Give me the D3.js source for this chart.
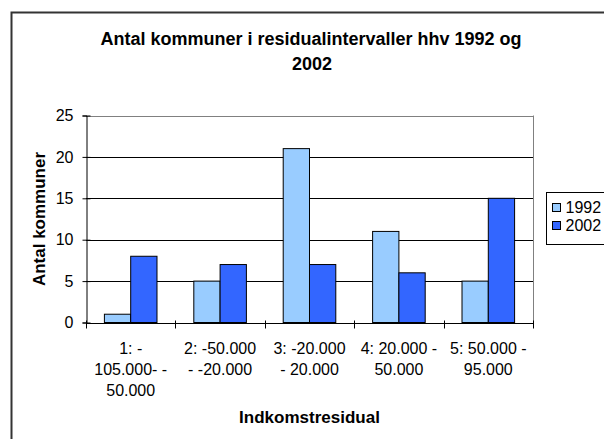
<!DOCTYPE html>
<html>
<head>
<meta charset="utf-8">
<script src="https://cdn.jsdelivr.net/npm/d3@7"></script>
<style>
  body { margin: 0; background: #fff; }
  svg { display: block; font-family: 'Liberation Sans', Arial, sans-serif; }
</style>
</head>
<body>
<div id="chart"></div>
<script>
const categories = [
  ['1: -', '105.000- -', '50.000'],
  ['2: -50.000', '- -20.000'],
  ['3: -20.000', '- 20.000'],
  ['4: 20.000 -', '50.000'],
  ['5: 50.000 -', '95.000']
]
const series = ['1992', '2002']
const values1992 = [1, 5, 21, 11, 5]
const values2002 = [8, 7, 7, 6, 15]
const yTicks = [0, 5, 10, 15, 20, 25]
const colors = { '1992': '#99ccff', '2002': '#3366ff' }

const width = 604
const height = 439
const plot = { left: 86, right: 533, top: 115.5, bottom: 322.5 }

const svg = d3.select('#chart')
  .append('svg')
  .attr('width', width)
  .attr('height', height)

// outer chart border (runs off the right and bottom edge)
svg.append('rect')
  .attr('x', 11.5).attr('y', 12.5)
  .attr('width', 620).attr('height', 440)
  .attr('fill', 'none')
  .attr('stroke', '#333')
  .attr('stroke-width', 2)

svg.append('text')
  .attr('x', 311).attr('y', 45)
  .attr('text-anchor', 'middle')
  .attr('font-size', 18).attr('font-weight', 'bold')
  .text('Antal kommuner i residualintervaller hhv 1992 og')
svg.append('text')
  .attr('x', 312).attr('y', 70)
  .attr('text-anchor', 'middle')
  .attr('font-size', 18).attr('font-weight', 'bold')
  .text('2002')

const idx = d3.range(categories.length)
const xScale = d3.scaleBand()
  .domain(idx)
  .range([plot.left, plot.right])
  .padding(0)

const xInner = d3.scaleBand()
  .domain(series)
  .range([0, xScale.bandwidth()])
  .paddingInner(0)
  .paddingOuter(0.7)

const yScale = d3.scaleLinear()
  .domain([0, 25])
  .range([plot.bottom, plot.top])

// gridlines
svg.append('g')
  .selectAll('line')
  .data(yTicks.filter(d => d > 0))
  .join('line')
  .attr('x1', plot.left).attr('x2', plot.right)
  .attr('y1', d => Math.round(yScale(d)) + 0.5)
  .attr('y2', d => Math.round(yScale(d)) + 0.5)
  .attr('stroke', d => d === 25 ? '#808080' : '#000')

// right border of plot area
svg.append('line')
  .attr('x1', plot.right + 0.5).attr('x2', plot.right + 0.5)
  .attr('y1', yScale(25)).attr('y2', plot.bottom)
  .attr('stroke', '#808080')

// bars
const rows = idx.map(i => ({ i, '1992': values1992[i], '2002': values2002[i] }))
svg.append('g')
  .selectAll('g')
  .data(rows)
  .join('g')
  .attr('transform', d => `translate(${xScale(d.i)},0)`)
  .selectAll('rect')
  .data(d => series.map(s => ({ s, v: d[s] })))
  .join('rect')
  .attr('x', d => xInner(d.s))
  .attr('y', d => yScale(d.v))
  .attr('width', xInner.bandwidth())
  .attr('height', d => yScale(0) - yScale(d.v))
  .attr('fill', d => colors[d.s])
  .attr('stroke', '#000')
  .attr('stroke-width', 1)

// y axis
const yAxis = g => g
  .attr('transform', `translate(${plot.left + 0.5},0)`)
  .call(d3.axisLeft(yScale).tickValues(yTicks).tickSize(4).tickPadding(9))
  .call(g => g.selectAll('.tick line').attr('x1', 4).attr('stroke', '#000'))
  .call(g => g.select('.domain').attr('stroke', '#000'))
  .call(g => g.selectAll('.tick text')
    .attr('font-size', 16)
    .attr('font-family', 'Liberation Sans, Arial, sans-serif')
    .attr('fill', '#000'))

svg.append('g').call(yAxis)

// x axis
const xAxis = g => g
  .attr('transform', `translate(0,${plot.bottom + 0.5})`)
  .call(d3.axisBottom(xScale).tickSize(0).tickPadding(0).tickSizeOuter(0).tickFormat(''))
  .call(g => g.select('.domain').attr('stroke', '#000'))
  .call(g => g.selectAll('.tick text').each(function (i) {
    d3.select(this)
      .attr('y', 0).attr('dy', null)
      .attr('font-size', 16)
      .attr('font-family', 'Liberation Sans, Arial, sans-serif')
      .attr('fill', '#000')
      .selectAll('tspan')
      .data(categories[i])
      .join('tspan')
      .attr('x', 0)
      .attr('y', (d, k) => 31 + k * 21)
      .text(d => d)
  }))

svg.append('g').call(xAxis)

// category boundary ticks
svg.append('g')
  .selectAll('line')
  .data(idx.concat([categories.length]))
  .join('line')
  .attr('x1', d => Math.round(d < categories.length ? xScale(d) : plot.right) + 0.5)
  .attr('x2', d => Math.round(d < categories.length ? xScale(d) : plot.right) + 0.5)
  .attr('y1', plot.bottom - 2)
  .attr('y2', plot.bottom + 6)
  .attr('stroke', '#000')

svg.append('text')
  .attr('transform', 'translate(45,219) rotate(-90)')
  .attr('text-anchor', 'middle')
  .attr('font-size', 17).attr('font-weight', 'bold')
  .text('Antal kommuner')

svg.append('text')
  .attr('x', (plot.left + plot.right) / 2).attr('y', 423)
  .attr('text-anchor', 'middle')
  .attr('font-size', 17).attr('font-weight', 'bold')
  .text('Indkomstresidual')

// legend
const legend = svg.append('g').attr('transform', 'translate(546.5,192.5)')
legend.append('rect')
  .attr('width', 80).attr('height', 52)
  .attr('fill', '#fff').attr('stroke', '#000')
const item = legend.selectAll('g')
  .data(series)
  .join('g')
  .attr('transform', (d, i) => `translate(6,${11 + i * 18})`)
item.append('rect')
  .attr('width', 8).attr('height', 8)
  .attr('fill', d => colors[d]).attr('stroke', '#000')
item.append('text')
  .attr('x', 13).attr('y', 9)
  .attr('font-size', 16)
  .text(d => d)
</script>
</body>
</html>
